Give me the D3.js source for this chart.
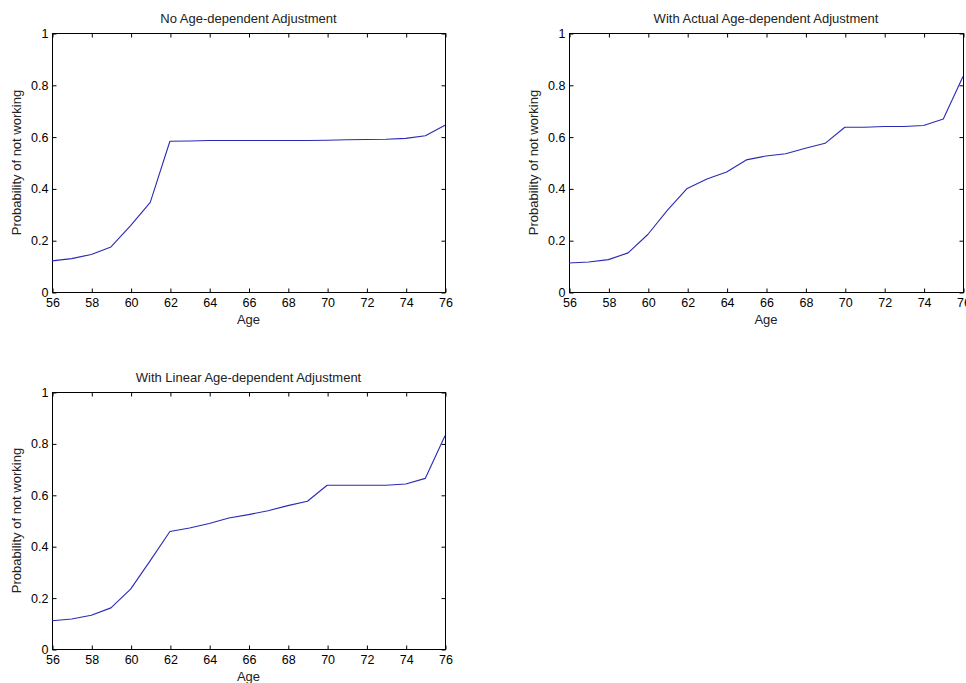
<!DOCTYPE html>
<html>
<head>
<meta charset="utf-8">
<script src="https://cdn.jsdelivr.net/npm/d3@7"></script>
<style>
  html, body { margin: 0; padding: 0; background: #fff; }
  svg { display: block; font-family: "Liberation Sans", Arial, Helvetica, sans-serif; }
</style>
</head>
<body>
<svg id="chart" width="966" height="683"></svg>
<script>
// Ages on the horizontal axis
const ages = [56, 57, 58, 59, 60, 61, 62, 63, 64, 65, 66, 67, 68, 69, 70, 71, 72, 73, 74, 75, 76];

// Probability of not working, by scenario
const noAdjustment = [0.120, 0.129, 0.145, 0.174, 0.256, 0.346, 0.582, 0.583, 0.585, 0.585, 0.585,
                      0.585, 0.585, 0.585, 0.586, 0.588, 0.589, 0.590, 0.593, 0.603, 0.644];
const actualAdjustment = [0.112, 0.116, 0.125, 0.151, 0.222, 0.316, 0.400, 0.436, 0.463, 0.510, 0.525,
                          0.534, 0.555, 0.574, 0.636, 0.636, 0.639, 0.639, 0.643, 0.668, 0.832];
const linearAdjustment = [0.110, 0.117, 0.131, 0.160, 0.233, 0.344, 0.457, 0.471, 0.488, 0.510, 0.523,
                          0.538, 0.558, 0.575, 0.637, 0.637, 0.637, 0.637, 0.642, 0.664, 0.830];

// Axis ticks
const xTicks = [56, 58, 60, 62, 64, 66, 68, 70, 72, 74, 76];
const yTicks = [0, 0.2, 0.4, 0.6, 0.8, 1];

const titles = ["No Age-dependent Adjustment",
                "With Actual Age-dependent Adjustment",
                "With Linear Age-dependent Adjustment"];
const xLabel = "Age";
const yLabel = "Probability of not working";

// Panel boxes (left, top, right, bottom) in pixels
const panels = [
  { series: noAdjustment,     title: titles[0], box: [52, 33, 445, 292] },
  { series: actualAdjustment, title: titles[1], box: [569, 33, 963, 292] },
  { series: linearAdjustment, title: titles[2], box: [52, 392, 445, 649] }
];

const svg = d3.select("#chart");
const tickLen = 4;
const tickFont = 12.5;
const labelFont = 13;

panels.forEach(p => {
  const [l, t, r, b] = p.box;
  const x = d3.scaleLinear().domain([56, 76]).range([l, r]);
  const y = d3.scaleLinear().domain([0, 1]).range([b, t]);
  const g = svg.append("g");

  // Axis frame
  g.append("rect")
    .attr("x", l + 0.5).attr("y", t + 0.5)
    .attr("width", r - l).attr("height", b - t)
    .attr("fill", "#fff").attr("stroke", "#000").attr("stroke-width", 1);

  // Bottom axis: inward ticks with labels
  const xb = g.append("g").attr("transform", `translate(0.5,${b + 0.5})`)
    .call(d3.axisBottom(x).tickValues(xTicks).tickSizeInner(-tickLen).tickSizeOuter(0)
      .tickPadding(6).tickFormat(d3.format("d")));
  // Top axis: inward ticks without labels
  const xt = g.append("g").attr("transform", `translate(0.5,${t + 0.5})`)
    .call(d3.axisTop(x).tickValues(xTicks).tickSizeInner(-tickLen).tickSizeOuter(0).tickFormat(""));
  // Left axis with labels
  const yl = g.append("g").attr("transform", `translate(${l + 0.5},0.5)`)
    .call(d3.axisLeft(y).tickValues(yTicks).tickSizeInner(-tickLen).tickSizeOuter(0)
      .tickPadding(4).tickFormat(d => d === 0 || d === 1 ? d3.format("d")(d) : d3.format(".1f")(d)));
  // Right axis: inward ticks only
  const yr = g.append("g").attr("transform", `translate(${r + 0.5},0.5)`)
    .call(d3.axisRight(y).tickValues(yTicks).tickSizeInner(-tickLen).tickSizeOuter(0).tickFormat(""));

  [xb, xt, yl, yr].forEach(a => {
    a.select(".domain").remove();
    a.selectAll(".tick line").attr("stroke", "#000");
    a.selectAll("text").attr("fill", "#000").style("font-size", tickFont + "px")
      .style("font-family", "'Liberation Sans', Arial, sans-serif");
  });

  // Series line
  g.append("path")
    .datum(ages.map((a, i) => [a, p.series[i]]))
    .attr("fill", "none")
    .attr("stroke", "#2a2ab4")
    .attr("stroke-width", 1.1)
    .attr("stroke-linejoin", "round")
    .attr("d", d3.line().x(d => x(d[0])).y(d => y(d[1])));

  // Title
  g.append("text")
    .attr("x", (l + r) / 2).attr("y", t - 10)
    .attr("text-anchor", "middle")
    .attr("fill", "#222")
    .style("font-size", labelFont + "px")
    .text(p.title);

  // X label
  g.append("text")
    .attr("x", (l + r) / 2).attr("y", b + 31.5)
    .attr("text-anchor", "middle")
    .attr("fill", "#222")
    .style("font-size", labelFont + "px")
    .text(xLabel);

  // Y label
  g.append("text")
    .attr("transform", `translate(${l - 31},${(t + b) / 2}) rotate(-90)`)
    .attr("text-anchor", "middle")
    .attr("fill", "#222")
    .style("font-size", labelFont + "px")
    .text(yLabel);
});
</script>
</body>
</html>
